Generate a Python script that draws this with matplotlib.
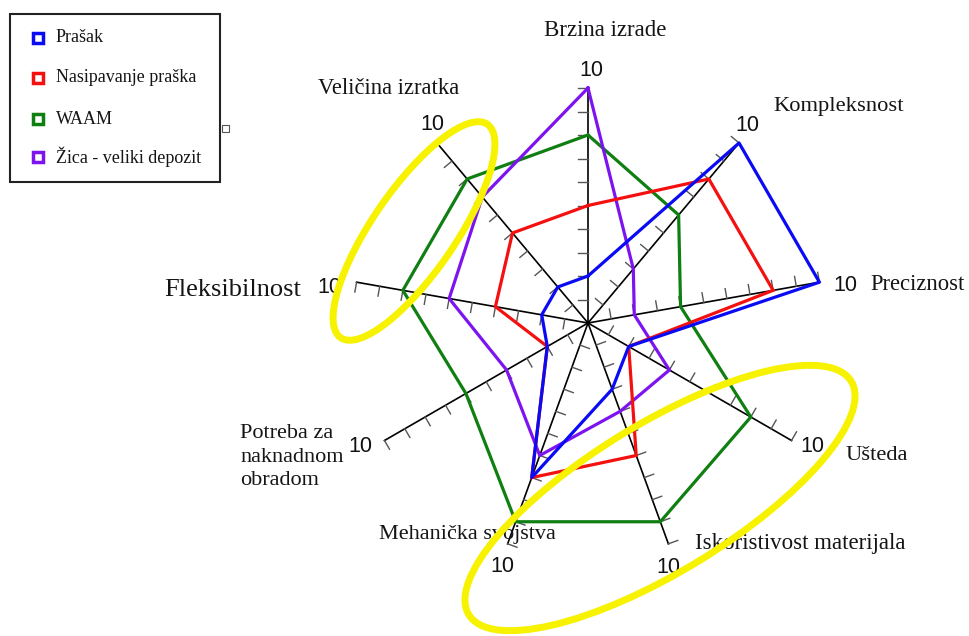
import numpy as np
import matplotlib
matplotlib.use("Agg")
import matplotlib.pyplot as plt
from matplotlib.patches import Ellipse, Rectangle

# ── data ─────────────────────────────────────────────────────────────────────
categories = ["Brzina izrade", "Kompleksnost", "Preciznost", "Ušteda",
              "Iskoristivost materijala", "Mehanička svojstva",
              "Potreba za\nnaknadnom\nobradom", "Fleksibilnost", "Veličina izratka"]
series_names = ["Prašak", "Nasipavanje praška", "WAAM", "Žica - veliki depozit"]
prasak      = [2, 10, 10, 2, 3, 7, 2, 2, 2]
nasipavanje = [5, 8, 8, 2, 6, 7, 2, 4, 5]
waam        = [8, 6, 4, 8, 9, 9, 6, 8, 8]
zica        = [10, 3, 2, 4, 4, 6, 4, 6, 7]
r_max = 10
tick_values = np.arange(1, r_max + 1)

# ── style ────────────────────────────────────────────────────────────────────
BLUE   = "#0a0af5"
RED    = "#f51010"
GREEN  = "#0f7f12"
PURPLE = "#7d14f0"
YELLOW = "#f7f200"
SERIF  = "Liberation Serif"
SANS   = "Liberation Sans"

W, H = 969, 636
CX, CY, R = 588, 323, 235          # centre / radius in pixels

fig = plt.figure(figsize=(W / 100, H / 100), dpi=100)
fig.patch.set_facecolor("white")

ax = fig.add_axes([(CX - R) / W, (H - CY - R) / H, 2 * R / W, 2 * R / H],
                  projection="polar")
ax.set_theta_offset(np.pi / 2)
ax.set_theta_direction(-1)
ax.set_ylim(0, r_max)
ax.axis("off")

n = len(categories)
theta = np.arange(n) * 2 * np.pi / n

# spokes + perpendicular ticks
d = 10 / (R / r_max)               # tick length in data units
for th in theta:
    ax.plot([th, th], [0, r_max], color="black", lw=1.2, clip_on=False, zorder=2)
    for v in tick_values:
        ax.plot([th, th - np.arctan2(d, v)], [v, np.hypot(v, d)],
                color="#555555", lw=1.0, clip_on=False, zorder=2)

# series
series = [(waam, GREEN, "miter"), (zica, PURPLE, "miter"),
          (nasipavanje, RED, "miter"), (prasak, BLUE, "round")]
for vals, col, join in series:
    th_c = np.append(theta, theta[0])
    v_c = np.append(vals, vals[0])
    ax.plot(th_c, v_c, color=col, lw=2.3, solid_joinstyle=join,
            clip_on=False, zorder=3)

# "10" labels at the spoke ends (offsets in pixels, y up)
ten_offsets = [(3, 18), (8, 17), (26, -3), (21, -6), (0, -24),
               (-5, -23), (-24, -6), (-27, -5), (-5, 18)]
for th, (ox, oy) in zip(theta, ten_offsets):
    ax.annotate(str(r_max), xy=(th, r_max), xytext=(ox, oy),
                textcoords="offset pixels", ha="center", va="center",
                fontsize=15.5, family=SANS, color="#111111", zorder=4)

# ── overlay in pixel coordinates ─────────────────────────────────────────────
ov = fig.add_axes([0, 0, 1, 1], zorder=5)
ov.set_xlim(0, W)
ov.set_ylim(H, 0)
ov.axis("off")

label_pos = [(605, 30, "center", 16.5), (839, 106, "center", 16.2),
             (918, 284, "center", 16.3), (877, 456, "center", 16.2),
             (800, 543, "center", 16.5), (467, 535, "center", 16.0),
             (240, 457, "left", 16.0), (233, 290, "center", 19),
             (389, 88, "center", 16.3)]
for txt, (x, y, ha, fs) in zip(categories, label_pos):
    ov.text(x, y, txt, ha=ha, va="center", fontsize=fs, family=SERIF,
            color="#151515", linespacing=1.3, zorder=1)

# yellow highlight ellipses
ov.add_patch(Ellipse((414, 231), 259, 83, angle=-55.5, fill=False,
                     edgecolor=YELLOW, lw=5, zorder=3))
ov.add_patch(Ellipse((660, 498), 448, 148, angle=-31.4, fill=False,
                     edgecolor=YELLOW, lw=5, zorder=3))

# legend box
ov.add_patch(Rectangle((10, 14), 210, 168, fill=False, edgecolor="#222222",
                       lw=1.5, zorder=2))
ov.add_patch(Rectangle((222, 125), 7, 7, fill=False, edgecolor="#555555",
                       lw=0.8, zorder=2))
leg_cols = [BLUE, RED, GREEN, PURPLE]
leg_y = [38, 78, 119, 157]
for name, col, y in zip(series_names, leg_cols, leg_y):
    ov.plot([38], [y], marker="s", ms=7.5, mfc="white", mec=col, mew=2.5,
            zorder=2)
    ov.text(56, y, name, ha="left", va="center", fontsize=13, family=SERIF,
            color="#151515", zorder=2)

fig.savefig("out.png", dpi=100, facecolor="white")
